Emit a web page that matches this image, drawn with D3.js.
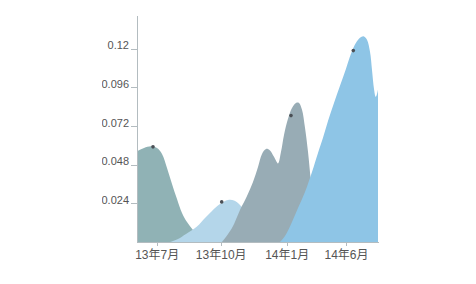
<!DOCTYPE html>
<html>
<head>
<meta charset="utf-8">
<script src="https://cdn.jsdelivr.net/npm/d3@7"></script>
<style>
  html, body { margin: 0; padding: 0; background: #fff; }
  svg { display: block; }
  .axis text { font-family: "Liberation Sans", Arial, "Noto Sans CJK SC", sans-serif; fill: #555; }
  .axis path, .axis line { stroke: #b3bcc0; shape-rendering: crispEdges; }
</style>
</head>
<body>
<svg id="chart" width="476" height="284"></svg>
<script>
// ---- data ----
const xTickValues = [9.85, 41.85, 74.85, 104.5];
const xTickLabels = ["13年7月", "13年10月", "14年1月", "14年6月"];
const yTickValues = [0.024, 0.048, 0.072, 0.096, 0.12];
const yTickLabels = ["0.024", "0.048", "0.072", "0.096", "0.12"];

const series1X = [-3.5, 0, 3.5, 7, 10, 12.5, 15, 17.5, 20, 22.5, 25, 28, 31.5, 35.5, 40.5];
const series1Y = [0.0535, 0.0563, 0.0584, 0.0594, 0.0584, 0.0547, 0.0460, 0.0361, 0.0267, 0.0180, 0.0124, 0.0075, 0.0037, 0.0012, 0];

const series2X = [16.5, 20.5, 24.5, 30, 34, 37.5, 41.5, 45.5, 48.5, 51.5, 55, 59, 63, 67.5];
const series2Y = [0, 0.0019, 0.0050, 0.0096, 0.0149, 0.0193, 0.0236, 0.0261, 0.0258, 0.0230, 0.0174, 0.0099, 0.0037, 0];

const series3X = [42.5, 47.5, 51.5, 55, 58, 60.5, 62.5, 64.5, 66.5, 68.5, 70.5, 72, 73.5, 75.5, 77.5, 79.5, 81, 82.5, 84, 85.5, 87, 89, 91.5, 95];
const series3Y = [0, 0.0087, 0.0199, 0.0286, 0.0373, 0.0466, 0.0547, 0.0578, 0.0569, 0.0529, 0.0488, 0.0560, 0.0665, 0.0765, 0.0833, 0.0864, 0.0864, 0.0821, 0.0709, 0.0560, 0.0373, 0.0187, 0.0050, 0];

const series4X = [71.5, 74, 77.5, 80.5, 84, 87.5, 90.5, 93, 95.5, 98.5, 101.5, 104.5, 107, 109.5, 111.5, 113.25, 115, 116.5, 117.5, 118.5, 119.35, 120, 121, 123];
const series4Y = [0, 0.0037, 0.0124, 0.0211, 0.0311, 0.0435, 0.0553, 0.0647, 0.0752, 0.0864, 0.0970, 0.1076, 0.1169, 0.1237, 0.1268, 0.1278, 0.1256, 0.1181, 0.1069, 0.0951, 0.0902, 0.0920, 0.0976, 0.1057];

const markerX = [8, 42.35, 77, 108.15];
const markerY = [0.0591, 0.0249, 0.0785, 0.1189];

const seriesColors = ["#90b2b5", "#b4d6ea", "#98acb5", "#8ec5e6"];

// ---- layout ----
const svg = d3.select("#chart");
const mLeft = 137, mRight = 378, mTop = 15, mBottom = 242;
const x = d3.scaleLinear().domain([0, 120.5]).range([mLeft, mRight]);
const y = d3.scaleLinear().domain([0, 0.141]).range([mBottom, mTop]);

const defs = svg.append("defs");
defs.append("clipPath").attr("id", "plotClip")
  .append("rect").attr("x", mLeft).attr("y", 0).attr("width", mRight - mLeft).attr("height", mBottom);
defs.append("clipPath").attr("id", "outerClip")
  .append("rect").attr("x", 102).attr("y", 0).attr("width", 476 - 102).attr("height", 284);

const root = svg.append("g").attr("clip-path", "url(#outerClip)");
const plot = root.append("g").attr("clip-path", "url(#plotClip)");

const allSeries = [
  series1X.map((v, i) => [v, series1Y[i]]),
  series2X.map((v, i) => [v, series2Y[i]]),
  series3X.map((v, i) => [v, series3Y[i]]),
  series4X.map((v, i) => [v, series4Y[i]])
];

const area = d3.area()
  .x(d => x(d[0]))
  .y0(y(0))
  .y1(d => Math.min(y(0), y(d[1])))
  .curve(d3.curveCatmullRom.alpha(0.5));

plot.selectAll("path.area")
  .data(allSeries)
  .join("path")
  .attr("class", "area")
  .attr("d", area)
  .attr("fill", (d, i) => seriesColors[i]);

plot.selectAll("circle.marker")
  .data(markerX.map((v, i) => [v, markerY[i]]))
  .join("circle")
  .attr("class", "marker")
  .attr("cx", d => x(d[0]))
  .attr("cy", d => y(d[1]))
  .attr("r", 1.8)
  .attr("fill", "#4a4f55");

// x axis
const xAxis = d3.axisBottom(x)
  .tickValues(xTickValues)
  .tickFormat((d, i) => xTickLabels[i])
  .tickSize(4)
  .tickSizeOuter(0);
const gx = root.append("g").attr("class", "axis")
  .attr("transform", `translate(0,${mBottom})`)
  .call(xAxis);
gx.selectAll("text").style("font-size", "12px").attr("y", 8.5);

// y axis
const yAxis = d3.axisLeft(y)
  .tickValues(yTickValues)
  .tickFormat((d, i) => yTickLabels[i])
  .tickSize(6)
  .tickSizeOuter(0);
const gy = root.append("g").attr("class", "axis")
  .attr("transform", `translate(${mLeft},0)`)
  .call(yAxis);
gy.selectAll("text")
  .style("font-size", "11px")
  .attr("x", -8)
  .attr("dy", "0");
</script>
</body>
</html>
